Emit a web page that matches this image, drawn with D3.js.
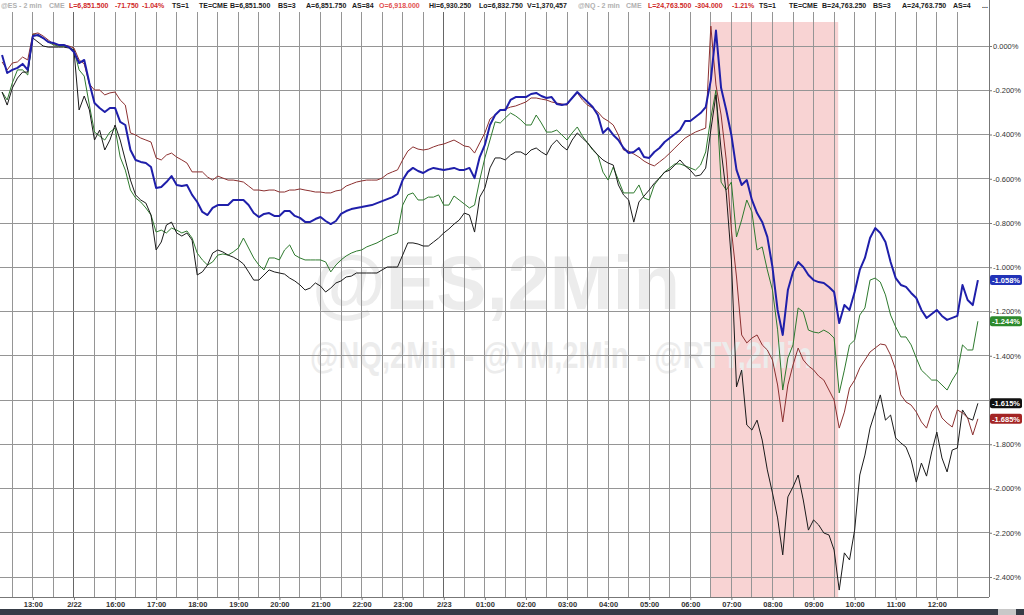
<!DOCTYPE html>
<html><head><meta charset="utf-8">
<script src="https://cdn.jsdelivr.net/npm/d3@7"></script>
<style>
html,body{margin:0;padding:0;background:#fff;overflow:hidden}
text{font-family:"Liberation Sans",Arial,sans-serif}
</style></head>
<body><svg id="c" width="1024" height="615"></svg>
<script>
// ---------- DATA ----------
const timeLabels = ["13:00","2/22","16:00","17:00","18:00","19:00","20:00","21:00","22:00","23:00","2/23","01:00","02:00","03:00","04:00","05:00","06:00","07:00","08:00","09:00","10:00","11:00","12:00"];
const dateLabelIdx = [1, 10];
const yTicks = [0,-0.2,-0.4,-0.6,-0.8,-1.0,-1.2,-1.4,-1.6,-1.8,-2.0,-2.2,-2.4];
const t0 = -0.75, dt = 0.125;   // label-index units (hours); samples every 7.5 min
const shadeRange = [16.5, 19.6];

const esValues = [ // blue
-0.041,-0.122,-0.108,-0.099,-0.081,-0.108,0.045,0.050,0.036,0.018,
0.014,0.005,0.005,-0.005,-0.027,-0.077,-0.063,-0.167,-0.258,-0.280,
-0.298,-0.280,-0.280,-0.343,-0.357,-0.470,-0.515,-0.524,-0.529,-0.547,
-0.642,-0.637,-0.615,-0.588,-0.628,-0.633,-0.628,-0.673,-0.705,-0.750,
-0.764,-0.732,-0.719,-0.719,-0.719,-0.696,-0.696,-0.696,-0.719,-0.755,
-0.773,-0.759,-0.755,-0.768,-0.768,-0.746,-0.746,-0.768,-0.777,-0.795,
-0.795,-0.782,-0.773,-0.791,-0.805,-0.791,-0.759,-0.746,-0.737,-0.732,
-0.728,-0.723,-0.719,-0.710,-0.701,-0.692,-0.683,-0.669,-0.606,-0.569,
-0.551,-0.565,-0.574,-0.560,-0.551,-0.556,-0.560,-0.556,-0.551,-0.560,
-0.560,-0.551,-0.597,-0.502,-0.447,-0.357,-0.312,-0.289,-0.289,-0.244,
-0.231,-0.231,-0.231,-0.217,-0.212,-0.226,-0.235,-0.231,-0.262,-0.267,
-0.262,-0.235,-0.208,-0.231,-0.253,-0.276,-0.312,-0.393,-0.371,-0.402,
-0.425,-0.461,-0.484,-0.479,-0.461,-0.502,-0.506,-0.479,-0.461,-0.434,
-0.416,-0.398,-0.380,-0.339,-0.339,-0.321,-0.303,-0.276,-0.154,0.070,
-0.190,-0.289,-0.402,-0.560,-0.628,-0.606,-0.696,-0.755,-0.795,-0.863,
-0.999,-1.193,-1.306,-1.103,-1.021,-0.976,-0.999,-1.035,-1.058,-1.067,
-1.071,-1.089,-1.112,-1.252,-1.171,-1.193,-1.112,-1.012,-0.958,-0.868,
-0.823,-0.845,-0.886,-0.976,-1.049,-1.080,-1.089,-1.116,-1.139,-1.193,
-1.229,-1.211,-1.193,-1.220,-1.238,-1.229,-1.220,-1.080,-1.148,-1.171,
-1.058];
const nqValues = [ // green
-0.208,-0.244,-0.167,-0.108,-0.108,-0.131,0.054,0.045,0.036,0.018,
0.005,0.000,0.000,-0.005,-0.018,-0.108,-0.136,-0.267,-0.389,-0.407,
-0.425,-0.389,-0.371,-0.502,-0.561,-0.651,-0.687,-0.705,-0.732,-0.764,
-0.841,-0.832,-0.845,-0.823,-0.832,-0.845,-0.836,-0.868,-0.936,-0.967,
-0.990,-0.976,-0.945,-0.940,-0.945,-0.931,-0.913,-0.868,-0.913,-0.958,
-0.990,-1.012,-0.958,-0.958,-0.967,-0.922,-0.899,-0.945,-0.958,-0.967,
-0.967,-0.967,-0.967,-0.976,-1.021,-0.990,-0.967,-0.949,-0.936,-0.927,
-0.922,-0.908,-0.899,-0.890,-0.877,-0.863,-0.854,-0.845,-0.719,-0.673,
-0.664,-0.696,-0.696,-0.683,-0.683,-0.673,-0.719,-0.719,-0.678,-0.696,
-0.714,-0.732,-0.719,-0.606,-0.506,-0.425,-0.343,-0.348,-0.325,-0.303,
-0.316,-0.334,-0.357,-0.357,-0.312,-0.348,-0.389,-0.389,-0.380,-0.402,
-0.425,-0.393,-0.366,-0.407,-0.438,-0.470,-0.493,-0.570,-0.606,-0.547,
-0.606,-0.664,-0.664,-0.664,-0.628,-0.687,-0.696,-0.628,-0.597,-0.570,
-0.551,-0.533,-0.533,-0.542,-0.551,-0.561,-0.538,-0.479,-0.325,-0.199,
-0.615,-0.651,-0.615,-0.863,-0.786,-0.696,-0.750,-0.922,-0.908,-1.012,
-1.103,-1.283,-1.555,-1.410,-1.351,-1.184,-1.202,-1.284,-1.293,-1.297,
-1.284,-1.297,-1.320,-1.568,-1.465,-1.351,-1.329,-1.216,-1.184,-1.058,
-1.049,-1.067,-1.125,-1.216,-1.270,-1.315,-1.315,-1.351,-1.410,-1.465,
-1.487,-1.510,-1.510,-1.532,-1.555,-1.510,-1.473,-1.351,-1.374,-1.374,
-1.244];
const ymValues = [ // dark red
-0.072,-0.108,-0.077,-0.072,-0.050,-0.063,0.054,0.059,0.045,0.027,
0.009,0.005,0.005,0.000,-0.009,-0.063,-0.081,-0.172,-0.199,-0.199,
-0.221,-0.212,-0.208,-0.244,-0.267,-0.393,-0.402,-0.416,-0.425,-0.434,
-0.506,-0.515,-0.493,-0.484,-0.502,-0.515,-0.529,-0.569,-0.569,-0.569,
-0.592,-0.606,-0.588,-0.597,-0.606,-0.606,-0.610,-0.615,-0.633,-0.651,
-0.651,-0.655,-0.651,-0.651,-0.660,-0.660,-0.651,-0.651,-0.646,-0.651,
-0.655,-0.660,-0.660,-0.664,-0.664,-0.655,-0.651,-0.633,-0.624,-0.615,
-0.610,-0.606,-0.606,-0.606,-0.597,-0.579,-0.569,-0.560,-0.515,-0.475,
-0.456,-0.466,-0.470,-0.466,-0.456,-0.448,-0.443,-0.434,-0.425,-0.438,
-0.452,-0.456,-0.484,-0.438,-0.393,-0.330,-0.312,-0.289,-0.285,-0.276,
-0.271,-0.262,-0.253,-0.235,-0.235,-0.240,-0.244,-0.253,-0.258,-0.262,
-0.267,-0.235,-0.212,-0.244,-0.267,-0.280,-0.298,-0.325,-0.339,-0.357,
-0.402,-0.470,-0.475,-0.488,-0.502,-0.520,-0.533,-0.542,-0.524,-0.506,
-0.484,-0.461,-0.438,-0.416,-0.402,-0.389,-0.380,-0.371,0.090,-0.176,
-0.312,-0.515,-0.832,-1.044,-1.306,-1.342,-1.320,-1.306,-1.351,-1.374,
-1.419,-1.532,-1.699,-1.532,-1.442,-1.365,-1.419,-1.446,-1.464,-1.492,
-1.510,-1.555,-1.600,-1.727,-1.655,-1.546,-1.510,-1.455,-1.419,-1.383,
-1.365,-1.347,-1.351,-1.397,-1.464,-1.577,-1.609,-1.623,-1.654,-1.699,
-1.727,-1.654,-1.623,-1.681,-1.704,-1.722,-1.645,-1.658,-1.681,-1.758,
-1.685];
const rtyValues = [ // black
-0.208,-0.267,-0.190,-0.145,-0.118,-0.118,0.036,0.018,0.000,-0.005,
-0.005,-0.005,-0.005,-0.009,-0.018,-0.289,-0.226,-0.289,-0.425,-0.380,
-0.470,-0.425,-0.357,-0.425,-0.515,-0.606,-0.673,-0.696,-0.710,-0.764,
-0.922,-0.886,-0.809,-0.796,-0.845,-0.859,-0.845,-0.877,-1.035,-1.021,
-0.990,-0.936,-0.922,-0.931,-0.945,-0.954,-0.967,-0.985,-1.021,-1.058,
-1.058,-1.035,-1.012,-1.021,-1.026,-1.031,-1.049,-1.062,-1.080,-1.103,
-1.094,-1.071,-1.085,-1.112,-1.094,-1.071,-1.062,-1.044,-1.040,-1.026,
-1.026,-1.026,-1.026,-1.026,-1.012,-0.999,-0.999,-0.999,-0.945,-0.890,
-0.890,-0.895,-0.904,-0.904,-0.886,-0.868,-0.845,-0.827,-0.805,-0.787,
-0.755,-0.764,-0.841,-0.683,-0.642,-0.551,-0.506,-0.506,-0.515,-0.493,
-0.479,-0.479,-0.493,-0.470,-0.461,-0.479,-0.493,-0.448,-0.425,-0.452,
-0.470,-0.425,-0.393,-0.416,-0.438,-0.466,-0.493,-0.515,-0.529,-0.538,
-0.628,-0.673,-0.696,-0.796,-0.705,-0.678,-0.651,-0.620,-0.597,-0.570,
-0.561,-0.538,-0.515,-0.542,-0.561,-0.588,-0.583,-0.552,-0.380,-0.221,
-0.470,-0.664,-0.967,-1.541,-1.465,-1.713,-1.736,-1.691,-1.781,-1.916,
-2.020,-2.133,-2.300,-2.038,-1.993,-1.939,-2.052,-2.188,-2.142,-2.165,
-2.201,-2.210,-2.278,-2.459,-2.291,-2.323,-2.188,-1.939,-1.849,-1.727,
-1.654,-1.577,-1.691,-1.668,-1.772,-1.794,-1.813,-1.871,-1.971,-1.885,
-1.944,-1.835,-1.745,-1.862,-1.925,-1.826,-1.817,-1.645,-1.681,-1.691,
-1.615];

const seriesColors = ["#2e7a2e","#1a1a1a","#8c3030","#1f1faa"];
const badgeColors  = ["#2d8a2d","#111111","#a32424","#2233b8"];
const seriesWidths = [1, 1, 1, 2];
const seriesData = [nqValues, rtyValues, ymValues, esValues];

const headerTokens = [
 ["@ES - 2 min","g"],["CME","g"],["L=6,851.500","r"],["-71.750","r"],["-1.04%","r"],["TS=1","k"],["TE=CME","k"],
 ["B=6,851.500","k"],["BS=3","k"],["A=6,851.750","k"],["AS=84","k"],["O=6,918.000","o"],["Hi=6,930.250","k"],
 ["Lo=6,832.750","k"],["V=1,370,457","k"],["@NQ - 2 min","g"],["CME","g"],["L=24,763.500","r"],["-304.000","r"],
 ["-1.21%","r"],["TS=1","k"],["TE=CME","k"],["B=24,763.250","k"],["BS=3","k"],["A=24,763.750","k"],["AS=4","k"],["...","k"]];
const watermarkMain = "@ES,2Min";
const watermarkSub = "@NQ,2Min - @YM,2Min - @RTY,2Min";

// ---------- LAYOUT ----------
const headerX = [1,49,69,115,142,172,199,230,278,306,352,379,429,479,527,578,626,648,695,732,759,789,822,873,902,953,982];
const tokenColor = {g:"#b0b0b0", r:"#d02828", k:"#1a1a1a", o:"#e25050"};
const plot = {left:0, right:989, top:12, bottom:597};

const svg = d3.select("#c");
const x = d3.scaleLinear().domain([-0.8, 23.27]).range([0, 989]);
const y = d3.scaleLinear().domain([0, -2.4]).range([46, 577]);

// shaded window
svg.append("rect")
  .attr("x", x(shadeRange[0])).attr("y", 22)
  .attr("width", x(shadeRange[1]) - x(shadeRange[0]))
  .attr("height", plot.bottom - 22)
  .attr("fill", "#f8d3d3");

// watermark
svg.append("text").attr("x", 312).attr("y", 309)
  .attr("font-size", 76).attr("font-weight", "bold").attr("fill", "#ececec")
  .attr("textLength", 368).attr("lengthAdjust", "spacingAndGlyphs")
  .text(watermarkMain);
svg.append("text").attr("x", 310).attr("y", 368)
  .attr("font-size", 36).attr("font-weight", "bold").attr("fill", "#ececec")
  .attr("textLength", 502).attr("lengthAdjust", "spacingAndGlyphs")
  .text(watermarkSub);

// grid
const vgrid = d3.range(-0.5, 22.51, 0.5);
svg.append("g").selectAll("line").data(vgrid).join("line")
  .attr("x1", d => x(d)).attr("x2", d => x(d))
  .attr("y1", plot.top).attr("y2", plot.bottom)
  .attr("stroke", d => dateLabelIdx.includes(d) ? "#666" : "#959595")
  .attr("stroke-width", 1).attr("shape-rendering", "crispEdges");
svg.append("g").selectAll("line").data(yTicks).join("line")
  .attr("x1", plot.left).attr("x2", plot.right)
  .attr("y1", d => y(d)).attr("y2", d => y(d))
  .attr("stroke", "#959595").attr("stroke-width", 1).attr("shape-rendering", "crispEdges");

// axes
const lastVals = seriesData.map(v => v[v.length - 1]);
const yAxis = d3.axisRight(y).tickValues(yTicks).tickSize(3)
  .tickFormat(d => (Math.abs(d) < 1e-9 ? "0.000" : d.toFixed(3)) + "%");
const gy = svg.append("g").attr("transform", `translate(${plot.right},0)`).call(yAxis);
gy.select(".domain").remove();
gy.selectAll(".tick line").attr("stroke", "#777");
gy.selectAll("text").attr("font-size", 7.5).attr("fill", "#333").attr("x", 4)
  .style("font-family", '"Liberation Sans",Arial,sans-serif')
  .style("display", d => lastVals.some(v => Math.abs(y(v) - y(d)) < 9) ? "none" : null);

const xAxis = d3.axisBottom(x).tickValues(d3.range(timeLabels.length)).tickSize(3)
  .tickFormat(i => timeLabels[i]);
const gx = svg.append("g").attr("transform", `translate(0,${plot.bottom})`).call(xAxis);
gx.select(".domain").remove();
gx.selectAll(".tick line").attr("stroke", "#777");
gx.selectAll("text").attr("font-size", 7.5).attr("font-weight", "bold").attr("fill", "#333").attr("y", 5)
  .style("font-family", '"Liberation Sans",Arial,sans-serif');

// borders
svg.append("line").attr("x1", plot.right + 0.5).attr("x2", plot.right + 0.5)
  .attr("y1", 0).attr("y2", plot.bottom).attr("stroke", "#777");
svg.append("line").attr("x1", 0).attr("x2", plot.right)
  .attr("y1", plot.bottom + 0.5).attr("y2", plot.bottom + 0.5).attr("stroke", "#777");

// header
svg.append("rect").attr("x", 0).attr("y", 0).attr("width", plot.right).attr("height", 11).attr("fill", "#fff");
svg.append("g").selectAll("text").data(headerTokens).join("text")
  .attr("x", (d, i) => headerX[i]).attr("y", 8)
  .attr("font-size", 7).attr("font-weight", "bold")
  .attr("fill", d => tokenColor[d[1]]).text(d => d[0]);

// series
const line = d3.line().x((d, i) => x(t0 + i * dt)).y(d => y(d));
seriesData.forEach((vals, k) => {
  svg.append("path").datum(vals).attr("d", line)
    .attr("fill", "none").attr("stroke", seriesColors[k])
    .attr("stroke-width", seriesWidths[k]).attr("stroke-linejoin", "round");
});

// last-value badges
seriesData.forEach((vals, k) => {
  const v = vals[vals.length - 1];
  const g = svg.append("g").attr("transform", `translate(990,${y(v)})`);
  g.append("rect").attr("x", 0).attr("y", -5).attr("width", 32).attr("height", 10)
    .attr("rx", 2).attr("fill", badgeColors[k]);
  g.append("text").attr("x", 16).attr("y", 2.7).attr("text-anchor", "middle")
    .attr("font-size", 7.5).attr("font-weight", "bold").attr("fill", "#fff")
    .text(v.toFixed(3) + "%");
});

// bottom scrollbar
svg.append("rect").attr("x", 0).attr("y", 609).attr("width", 1024).attr("height", 6).attr("fill", "#363c46");
svg.append("rect").attr("x", 998).attr("y", 609).attr("width", 18).attr("height", 6).attr("fill", "#c8c8c8");
</script>
</body></html>
